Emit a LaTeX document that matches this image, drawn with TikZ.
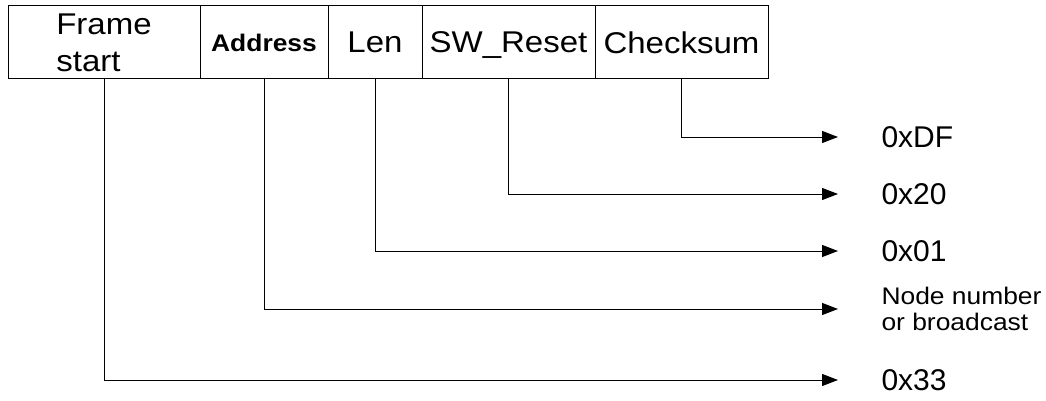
\documentclass[tikz,border=0pt]{standalone}
\usepackage{fontspec}
\setmainfont[FakeStretch=1.1]{Liberation Sans}
\newfontfamily\valuefont{Liberation Sans}
\usetikzlibrary{arrows.meta, positioning}

\begin{document}
\begin{tikzpicture}[x=1pt, y=-1pt, line width=1pt,
    field/.style={draw, minimum height=73pt, inner sep=0pt, outer sep=0pt,
        text depth=0pt, font=\fontsize{30}{37}\selectfont},
    link/.style={-{Triangle[length=16pt, width=12pt]}, shorten >=43pt},
    value/.style={anchor=west, inner sep=0pt, font=\valuefont\fontsize{30}{34}\selectfont}]
    \useasboundingbox (0,0) rectangle (1046,401);

    % The fields of the frame, left to right
    \node[field, minimum width=192pt, anchor=north west, align=left] (start) at (8,6) {Frame\\start};
    \node[field, minimum width=128pt, right=0pt of start,
        font=\bfseries\fontsize{24}{28}\selectfont] (addr) {Address};
    \node[field, minimum width=94pt, right=0pt of addr] (len) {Len};
    \node[field, minimum width=173pt, right=0pt of len] (swr) {SW\_Reset};
    \node[field, minimum width=173pt, right=0pt of swr] (cks) {Checksum};

    % Values carried by each field
    \node[value] (vdf) at (881,137) {0xDF};
    \node[value] (v20) at (881,194) {0x20};
    \node[value] (v01) at (881,251) {0x01};
    \node[value, align=left, font=\fontsize{24}{26}\selectfont] (vnode) at (881,309) {Node number\\or broadcast};
    \node[value] (v33) at (881,380) {0x33};

    % Connectors from field to value
    \draw[link] (cks.south) |- (vdf.west);
    \draw[link] (swr.south) |- (v20.west);
    \draw[link] (len.south) |- (v01.west);
    \draw[link] (addr.south) |- (vnode.west);
    \draw[link] (start.south) |- (v33.west);

\end{tikzpicture}
\end{document}
